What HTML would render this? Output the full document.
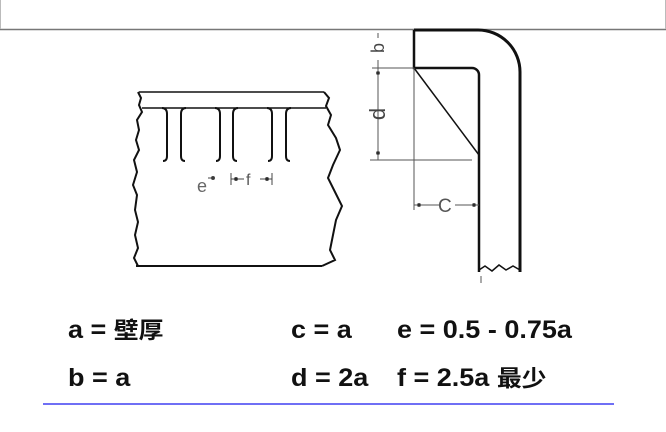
<!DOCTYPE html>
<html><head><meta charset="utf-8"><style>
body{margin:0;width:666px;height:432px;background:#fff;overflow:hidden;position:relative;font-family:"Liberation Sans","Noto Sans CJK SC",sans-serif}
.t{position:absolute;font-weight:bold;font-size:25px;line-height:28px;height:28px;color:#111;white-space:nowrap;transform:scaleX(1.08);transform-origin:left}
.t span{font-size:23px}
</style></head><body>
<svg width="666" height="432" style="position:absolute;left:0;top:0">
<line x1="0" y1="29.5" x2="666" y2="29.5" stroke="#777" stroke-width="1.5"/>
<line x1="0.5" y1="0" x2="0.5" y2="29" stroke="#bbb"/>
<line x1="665.5" y1="0" x2="665.5" y2="29" stroke="#bbb"/>
<g fill="none" stroke="#111" stroke-width="2">
<line x1="139" y1="92" x2="324" y2="92" stroke-width="1.5"/>
<line x1="142" y1="108" x2="326" y2="108" stroke-width="1.5"/>
<line x1="136" y1="266" x2="322" y2="266" stroke-width="2"/>
<polyline points="138,92 141,98 139,105 142,112 137,120 139,130 136,140 139,150 134,160 137,172 133,185 137,195 135,210 138,222 135,235 138,248 134,258 138,266"/>
<polyline points="324,92 329,98 326,106 331,115 328,125 336,138 340,150 333,165 328,178 335,192 342,206 336,220 333,235 330,250 335,260 322,266"/>
<path d="M162,108 q5,0 5,6 v42 q0,5 -4,5"/>
<path d="M186,108 q-5,0 -5,6 v42 q0,5 4,5"/>
<path d="M215,108 q5,0 5,6 v42 q0,5 -4,5"/>
<path d="M238,108 q-5,0 -5,6 v42 q0,5 4,5"/>
<path d="M267,108 q5,0 5,6 v42 q0,5 -4,5"/>
<path d="M291,108 q-5,0 -5,6 v42 q0,5 4,5"/>
</g>
<g stroke="#444" stroke-width="1" fill="#222">
<line x1="231" y1="173" x2="231" y2="185"/><line x1="272" y1="173" x2="272" y2="185"/>
<line x1="231" y1="179" x2="244" y2="179"/><line x1="260" y1="179" x2="272" y2="179"/>
<circle cx="236" cy="179" r="1.5"/><circle cx="267" cy="179" r="1.5"/>
<circle cx="213" cy="178" r="1.5"/><line x1="208" y1="178" x2="214" y2="178"/>
</g>
<text x="246" y="185" font-family="Liberation Sans" font-size="16" fill="#555">f</text>
<text x="197" y="192" font-family="Liberation Sans" font-size="18" fill="#666">e</text>
<g fill="none" stroke="#111">
<path d="M414,30 H478 A42,42 0 0 1 520,72 V272" stroke-width="3"/>
<path d="M414,30 V68 H472 A7,7 0 0 1 479,75 V272" stroke-width="2.5"/>
<polyline points="479,270 485,266 492,271 499,265 506,270 513,266 520,270" stroke-width="1.5"/>
<line x1="414" y1="68" x2="479" y2="155" stroke-width="1.5"/>
</g>
<g stroke="#555" stroke-width="1" fill="#222">
<line x1="372" y1="68" x2="414" y2="68"/>
<line x1="370" y1="160" x2="472" y2="160"/>
<line x1="414" y1="68" x2="414" y2="210"/>
<line x1="378" y1="68" x2="378" y2="160"/>
<line x1="378" y1="33" x2="378" y2="38"/><line x1="378" y1="60" x2="378" y2="68"/>
<line x1="414" y1="205" x2="440" y2="205"/><line x1="455" y1="205" x2="479" y2="205"/>
<circle cx="419" cy="205" r="1.5"/><circle cx="474" cy="205" r="1.5"/>
<circle cx="378" cy="73" r="1.5"/><circle cx="378" cy="153" r="1.5"/>
<line x1="481" y1="276" x2="481" y2="283"/>
</g>
<text x="0" y="0" transform="translate(384,48) rotate(-90)" font-family="Liberation Sans" font-size="18" fill="#444" text-anchor="middle">b</text>
<text x="0" y="0" transform="translate(385,114) rotate(-90)" font-family="Liberation Sans" font-size="22" fill="#444" text-anchor="middle">d</text>
<text x="438" y="212" font-family="Liberation Sans" font-size="19" fill="#555">C</text>
<line x1="43" y1="404" x2="614" y2="404" stroke="#6f6ff5" stroke-width="2"/>
</svg>
<div class="t" style="left:68px;top:316px">a = <span>壁厚</span></div>
<div class="t" style="left:291px;top:316px">c = a</div>
<div class="t" style="left:397px;top:316px">e = 0.5 - 0.75a</div>
<div class="t" style="left:68px;top:364px">b = a</div>
<div class="t" style="left:291px;top:364px">d = 2a</div>
<div class="t" style="left:397px;top:364px">f = 2.5a <span>最少</span></div>
</body></html>
